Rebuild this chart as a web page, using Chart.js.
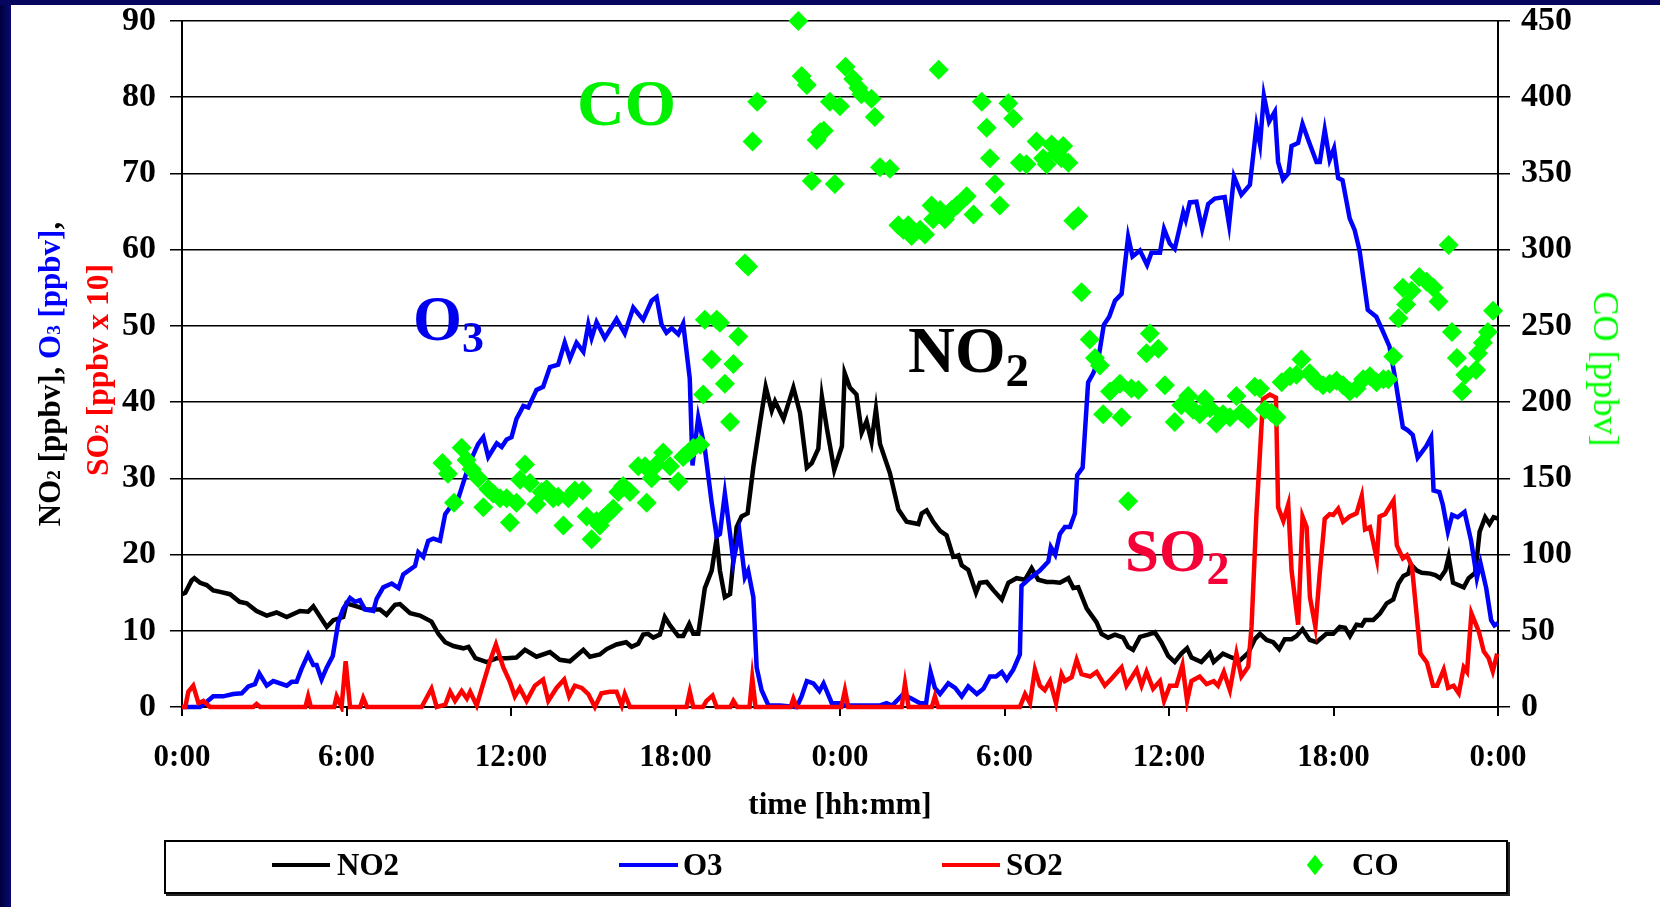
<!DOCTYPE html>
<html><head><meta charset="utf-8">
<script src="https://cdn.jsdelivr.net/npm/chart.js@4.4.1/dist/chart.umd.min.js"></script>
<style>
html,body{margin:0;padding:0;background:#fff;width:1660px;height:907px;overflow:hidden;font-family:'Liberation Serif','Times New Roman',serif;}
#c{position:absolute;left:0;top:0;}
.t{position:absolute;white-space:nowrap;line-height:1;font-weight:bold;z-index:5;}
.rot{transform:translate(-50%,-50%) rotate(-90deg);}
.rotR{transform:translate(-50%,-50%) rotate(90deg);}
.sub{font-size:0.62em;}
#leftStrip{position:absolute;left:0;top:0;width:11px;height:907px;background:linear-gradient(90deg,#00003e,#0a0a70);z-index:6;}
#topStrip{position:absolute;left:0;top:0;width:1660px;height:5px;background:#06065e;z-index:6;}
#legend{position:absolute;left:164px;top:840px;width:1340px;height:50px;border:2px solid #000;box-shadow:2px 2px 0 #222;background:#fff;z-index:5;}
.lg{position:absolute;height:4px;}
</style></head><body>
<canvas id="c" width="1660" height="907"></canvas>
<div id="leftStrip"></div><div id="topStrip"></div>

<div class="t rot" style="left:49px;top:374px;font-size:31px;color:#000;">NO<span class="sub">2</span> [ppbv], <span style="color:#0000ff">O<span class="sub">3</span> [ppbv]</span>,</div>
<div class="t rot" style="left:98px;top:370px;font-size:31.5px;color:#ff0000;">SO<span class="sub">2</span> [ppbv x 10]</div>
<div class="t rotR" style="left:1606px;top:369px;font-size:36px;font-weight:normal;color:#00ff00;">CO [ppbv]</div>
<div class="t" style="left:840px;top:803px;transform:translate(-50%,-50%);font-size:31px;color:#000;">time [hh:mm]</div>

<div class="t" style="left:577px;top:70px;font-size:66px;color:#00f000;">CO</div>
<div class="t" style="left:413px;top:288px;font-size:63px;color:#0000ee;">O<span style="font-size:44px;position:relative;top:12px;">3</span></div>
<div class="t" style="left:908px;top:318px;font-size:65px;color:#000;">NO<span style="font-size:47px;position:relative;top:14px;">2</span></div>
<div class="t" style="left:1125px;top:520px;font-size:61px;color:#f50037;">SO<span style="font-size:46px;position:relative;top:13px;">2</span></div>

<div id="legend"></div>
<div class="lg" style="left:272px;top:863px;width:58px;background:#000;z-index:7;"></div>
<div class="t" style="left:337px;top:849px;font-size:31px;color:#000;">NO2</div>
<div class="lg" style="left:619px;top:863px;width:59px;background:#0000ff;z-index:7;"></div>
<div class="t" style="left:683px;top:849px;font-size:31px;color:#000;">O3</div>
<div class="lg" style="left:942px;top:863px;width:58px;background:#ff0000;z-index:7;"></div>
<div class="t" style="left:1006px;top:849px;font-size:31px;color:#000;">SO2</div>
<div style="position:absolute;left:1307px;top:857px;width:16px;height:16px;background:#00ff00;transform:scaleY(1.25) rotate(45deg) scale(0.72);z-index:7;"></div>
<div class="t" style="left:1352px;top:849px;font-size:31px;color:#000;">CO</div>

<script>
// time in hours since start (0..48)
const xTickLabels = ['0:00','6:00','12:00','18:00','0:00','6:00','12:00','18:00','0:00'];

const no2Series = [[0,14.8],[0.12,15.0],[0.35,16.6],[0.45,16.9],[0.66,16.3],[0.9,16.0],[1.14,15.3],[1.39,15.1],[1.75,14.8],[2.1,13.8],[2.36,13.6],[2.72,12.6],[3.09,12.0],[3.45,12.4],[3.82,11.8],[4.3,12.6],[4.6,12.5],[4.79,13.2],[5.28,10.5],[5.52,11.4],[5.88,11.8],[6.0,13.6],[6.37,13.2],[6.73,12.8],[7.22,12.8],[7.46,12.1],[7.77,13.4],[7.95,13.5],[8.32,12.3],[8.68,12.0],[9.1,11.2],[9.35,9.6],[9.6,8.5],[9.9,8.0],[10.26,7.7],[10.45,7.9],[10.7,6.4],[11.12,5.9],[11.48,6.4],[11.84,6.4],[12.2,6.5],[12.51,7.5],[12.93,6.6],[13.42,7.2],[13.78,6.2],[14.15,6.0],[14.64,7.5],[14.88,6.6],[15.24,6.9],[15.49,7.6],[15.85,8.2],[16.2,8.5],[16.4,7.9],[16.64,8.3],[16.82,9.5],[17.0,9.6],[17.19,9.1],[17.43,9.5],[17.61,11.8],[17.8,10.7],[18.1,9.3],[18.28,9.3],[18.5,10.9],[18.65,9.6],[18.83,9.6],[19.07,15.6],[19.32,17.9],[19.5,22.1],[19.62,17.9],[19.8,14.4],[19.99,14.8],[20.23,23.6],[20.41,25.0],[20.63,25.4],[20.84,31.5],[21.08,37.2],[21.29,42.0],[21.51,38.9],[21.63,40.1],[21.94,37.8],[22.3,41.9],[22.54,38.6],[22.79,31.4],[22.97,32.0],[23.21,33.9],[23.34,40.7],[23.52,36.6],[23.79,31.1],[24.07,34.2],[24.17,43.8],[24.36,41.9],[24.6,41.0],[24.79,36.0],[24.97,37.5],[25.15,34.8],[25.31,39.1],[25.46,34.5],[25.82,30.7],[26.13,25.9],[26.43,24.3],[26.86,24.0],[26.98,25.4],[27.16,25.8],[27.4,24.3],[27.65,23.1],[27.89,22.5],[28.13,19.7],[28.32,19.9],[28.44,18.6],[28.68,18.0],[28.96,15.0],[29.1,16.3],[29.35,16.4],[29.6,15.3],[29.9,14.1],[30.14,16.3],[30.44,16.9],[30.75,16.7],[30.99,18.2],[31.23,16.7],[31.54,16.4],[31.78,16.4],[32.02,16.3],[32.33,16.9],[32.51,15.6],[32.69,15.7],[33.0,12.9],[33.36,11.1],[33.54,9.6],[33.78,9.1],[34.03,9.5],[34.33,9.1],[34.51,7.9],[34.69,7.5],[34.94,9.2],[35.24,9.5],[35.48,9.8],[35.72,8.5],[35.97,6.7],[36.21,5.9],[36.45,7.0],[36.66,7.7],[36.82,6.5],[37.18,5.9],[37.49,7.1],[37.63,5.9],[37.97,7.0],[38.28,6.5],[38.59,6.1],[38.89,7.1],[39.13,8.9],[39.32,9.6],[39.56,8.8],[39.8,8.5],[40.02,7.6],[40.22,8.9],[40.47,8.9],[40.65,9.3],[40.87,10.2],[41.13,8.8],[41.38,8.5],[41.74,9.6],[41.99,9.6],[42.23,10.5],[42.42,10.4],[42.6,9.3],[42.84,10.8],[43.03,10.7],[43.15,11.4],[43.45,11.4],[43.7,12.3],[43.94,13.6],[44.18,14.1],[44.37,16.2],[44.55,17.2],[44.73,17.5],[44.82,18.7],[45.04,17.9],[45.22,17.6],[45.53,17.5],[45.71,17.3],[45.89,16.9],[46.08,17.9],[46.2,19.7],[46.36,16.3],[46.75,15.7],[46.93,16.9],[47.17,17.6],[47.33,23.0],[47.53,24.9],[47.69,24.0],[47.84,24.9],[48.0,24.7]];

const o3Series = [[0,0],[0.66,0],[0.84,0.5],[1.14,1.4],[1.5,1.4],[1.87,1.7],[2.18,1.8],[2.42,2.7],[2.66,3.0],[2.82,4.4],[3.09,2.8],[3.33,3.4],[3.82,2.8],[4.0,3.3],[4.18,3.3],[4.36,5.0],[4.6,6.9],[4.79,5.5],[4.91,5.5],[5.09,3.6],[5.28,5.2],[5.5,6.7],[5.7,11.1],[5.88,12.9],[6.13,14.3],[6.31,13.8],[6.49,14.0],[6.67,12.8],[6.98,12.6],[7.1,14.2],[7.34,15.7],[7.65,16.2],[7.9,15.6],[8.07,17.4],[8.5,18.5],[8.62,20.3],[8.8,19.7],[8.98,21.8],[9.17,22.1],[9.41,21.8],[9.6,25.3],[9.78,26.2],[10.08,27.4],[10.32,30.1],[10.5,32.1],[10.8,34.5],[10.99,35.4],[11.17,32.8],[11.48,34.6],[11.66,34.1],[11.84,35.1],[12.02,35.4],[12.2,37.8],[12.45,39.5],[12.63,39.3],[12.93,41.6],[13.17,42.0],[13.42,44.6],[13.72,44.9],[13.96,47.8],[14.15,45.7],[14.39,47.8],[14.64,46.6],[14.82,50.2],[14.94,48.4],[15.12,50.5],[15.42,48.4],[15.85,50.9],[16.15,49.0],[16.46,52.4],[16.82,50.8],[17.13,53.3],[17.31,53.8],[17.49,50.2],[17.67,49.1],[17.86,49.7],[18.1,48.9],[18.28,50.3],[18.52,43.1],[18.62,31.7],[18.83,38.0],[19.07,33.9],[19.32,26.8],[19.5,22.4],[19.62,22.7],[19.8,28.0],[19.99,22.7],[20.11,19.1],[20.33,23.0],[20.53,17.0],[20.65,17.9],[20.84,14.4],[20.96,5.2],[21.14,2.2],[21.39,0.2],[21.81,0.2],[22.42,0],[22.6,1.4],[22.79,3.4],[23.03,3.1],[23.25,2.1],[23.4,3.1],[23.7,0.5],[24.01,0.5],[24.2,0.2],[25.46,0.2],[25.7,0.5],[25.9,0.2],[26.31,1.7],[26.55,1.2],[26.92,0.5],[27.14,0.5],[27.3,4.6],[27.46,2.5],[27.65,1.7],[27.95,3.1],[28.2,2.5],[28.44,1.4],[28.68,2.7],[28.99,1.7],[29.23,2.4],[29.47,4.0],[29.69,4.0],[29.9,4.6],[30.08,3.6],[30.32,4.9],[30.56,6.9],[30.62,15.9],[30.93,16.9],[31.29,17.9],[31.6,19.1],[31.69,21.0],[31.85,20.0],[32.02,22.7],[32.2,23.6],[32.39,23.6],[32.57,25.4],[32.65,30.4],[32.85,31.4],[33.05,42.6],[33.24,43.8],[33.42,45.6],[33.62,50.1],[33.82,51.2],[34.03,53.3],[34.27,54.2],[34.51,61.7],[34.67,59.1],[34.94,59.9],[35.2,58.0],[35.36,59.6],[35.67,59.6],[35.82,62.7],[36.03,60.8],[36.21,60.1],[36.52,64.9],[36.61,63.9],[36.76,66.2],[37.0,66.3],[37.21,62.7],[37.43,66.0],[37.67,66.7],[38.03,66.9],[38.19,63.3],[38.37,69.6],[38.64,67.2],[38.95,68.5],[39.19,76.2],[39.32,73.8],[39.46,80.2],[39.65,76.8],[39.86,78.1],[39.98,71.5],[40.16,69.2],[40.35,70.0],[40.47,73.6],[40.71,74.0],[40.87,76.5],[41.08,74.4],[41.38,71.5],[41.5,71.5],[41.68,75.7],[41.86,71.8],[42.02,73.3],[42.17,69.4],[42.33,69.1],[42.59,64.1],[42.77,62.6],[42.95,59.9],[43.25,52.1],[43.56,51.2],[43.8,49.3],[44.04,47.3],[44.22,43.7],[44.38,40.1],[44.53,36.7],[44.71,36.3],[44.89,35.7],[45.07,32.7],[45.38,34.2],[45.56,35.4],[45.65,28.4],[45.86,28.2],[45.99,26.5],[46.17,23.0],[46.33,25.2],[46.53,24.9],[46.78,25.6],[47.02,21.8],[47.23,16.9],[47.36,18.9],[47.57,15.6],[47.75,11.4],[47.87,10.7],[48.0,11.0]];

const so2Series = [[0,0],[0.12,0],[0.23,2.0],[0.41,2.8],[0.6,0.5],[0.78,0.8],[1.02,0],[2.6,0],[2.72,0.4],[2.85,0],[4.5,0],[4.6,1.4],[4.7,0],[5.55,0],[5.64,1.4],[5.82,0],[5.97,6.0],[6.13,0],[6.5,0],[6.61,1.2],[6.75,0],[8.74,0],[9.1,2.4],[9.29,0],[9.6,0.3],[9.78,2.0],[9.96,0.8],[10.2,2.1],[10.39,1.1],[10.51,2.0],[10.75,0.2],[10.99,3.1],[11.24,6.1],[11.45,8.2],[11.72,5.2],[11.96,3.3],[12.14,1.4],[12.32,2.5],[12.57,0.8],[12.87,2.8],[13.17,3.6],[13.36,0.8],[13.66,2.5],[13.94,3.6],[14.12,1.4],[14.33,2.8],[14.58,2.5],[14.82,1.7],[15.06,0],[15.3,1.8],[15.6,2.0],[15.85,2.0],[16.04,0.2],[16.15,1.7],[16.34,0],[18.4,0],[18.52,2.0],[18.65,0],[19.0,0],[19.13,0.8],[19.35,1.5],[19.5,0],[20.0,0],[20.11,0.8],[20.25,0],[20.7,0],[20.8,3.8],[20.92,0],[22.2,0],[22.3,1.1],[22.42,0],[24.05,0],[24.18,2.2],[24.3,0],[26.25,0],[26.37,3.1],[26.5,0],[27.35,0],[27.46,1.4],[27.58,0],[30.56,0],[30.75,1.7],[30.93,0.5],[31.11,4.9],[31.29,2.8],[31.47,2.2],[31.66,3.4],[31.88,0.5],[32.08,4.3],[32.2,3.4],[32.45,3.9],[32.63,6.2],[32.81,4.3],[33.12,4.0],[33.36,4.6],[33.66,2.8],[33.9,3.7],[34.27,5.2],[34.45,2.8],[34.82,4.9],[35.0,2.8],[35.18,4.6],[35.42,2.4],[35.67,3.4],[35.82,0.8],[36.03,2.8],[36.27,2.8],[36.49,5.5],[36.66,0.8],[36.82,3.4],[37.12,4.0],[37.37,3.0],[37.63,3.4],[37.79,2.8],[38.0,4.6],[38.22,2.2],[38.46,7.0],[38.64,4.0],[38.89,5.3],[39.01,10.5],[39.19,25.3],[39.43,40.4],[39.68,41.0],[39.9,40.6],[39.98,26.2],[40.17,24.4],[40.35,26.6],[40.47,17.9],[40.71,10.8],[40.87,25.0],[41.02,23.6],[41.14,14.4],[41.34,10.5],[41.5,17.6],[41.68,24.7],[41.86,25.3],[41.99,25.2],[42.17,26.0],[42.35,24.3],[42.59,25.0],[42.84,25.4],[43.03,27.7],[43.15,23.3],[43.33,23.6],[43.58,19.4],[43.68,25.0],[43.88,25.3],[44.19,27.1],[44.31,21.2],[44.53,19.5],[44.68,19.9],[44.86,18.5],[45.17,7.0],[45.41,5.8],[45.63,2.8],[45.78,2.8],[46.02,4.9],[46.18,2.5],[46.38,2.8],[46.57,1.8],[46.75,5.2],[46.87,4.6],[47.03,12.3],[47.3,9.9],[47.48,7.3],[47.66,6.4],[47.81,4.7],[47.97,7.0]];

const coSeries = [[9.5,160],[9.7,153],[9.92,134],[10.2,170],[10.38,162],[10.56,156],[10.81,150],[10.99,131],[11.17,143],[11.35,140],[11.6,137],[11.84,137],[11.96,121],[12.2,134],[12.33,149],[12.51,159],[12.69,147],[12.93,133],[13.12,141],[13.3,143],[13.54,137],[13.72,138],[13.91,119],[14.09,137],[14.33,142],[14.61,142],[14.76,125],[14.94,110],[15.12,122],[15.24,119],[15.37,124],[15.55,127],[15.73,130],[15.91,141],[16.09,145],[16.34,141],[16.64,158],[16.89,158],[16.95,134],[17.13,150],[17.31,159],[17.55,167],[17.8,158],[18.1,148],[18.28,164],[18.47,167],[18.65,170],[18.9,172],[19.01,205],[19.07,254],[19.32,228],[19.5,254],[19.62,252],[19.8,212],[19.99,187],[20.11,225],[20.29,243],[20.53,291],[20.65,289],[20.81,371],[20.98,397],[22.48,450],[22.6,414],[22.79,408],[22.97,345],[23.15,372],[23.28,377],[23.41,378],[23.63,397],[23.81,343],[24.0,394],[24.2,420],[24.48,412],[24.67,406],[24.78,402],[25.15,399],[25.27,387],[25.46,354],[25.82,353],[26.13,316],[26.31,313],[26.49,316],[26.61,309],[26.92,313],[27.1,310],[27.34,329],[27.4,320],[27.6,418],[27.65,326],[27.83,320],[28.07,326],[28.26,329],[28.62,335],[28.87,323],[29.17,397],[29.35,380],[29.47,360],[29.65,343],[29.83,329],[30.14,396],[30.32,386],[30.56,357],[30.8,356],[31.17,371],[31.41,360],[31.54,356],[31.72,369],[31.9,363],[32.08,360],[32.14,368],[32.33,357],[32.51,319],[32.69,322],[32.81,272],[33.11,241],[33.3,229],[33.48,224],[33.6,192],[33.85,207],[34.21,212],[34.27,190],[34.51,135],[34.63,209],[34.88,208],[35.18,232],[35.3,245],[35.61,235],[35.85,211],[36.21,187],[36.45,198],[36.7,204],[36.88,195],[37.12,192],[37.31,202],[37.49,196],[37.73,186],[37.97,192],[38.22,190],[38.46,204],[38.64,193],[38.89,189],[39.13,210],[39.32,209],[39.5,195],[39.74,193],[39.92,190],[40.11,213],[40.41,217],[40.65,218],[40.83,228],[41.13,219],[41.38,214],[41.62,211],[41.86,212],[42.11,214],[42.35,211],[42.6,207],[42.84,209],[43.08,215],[43.33,217],[43.57,213],[43.82,215],[44.0,215],[44.18,230],[44.37,255],[44.53,275],[44.65,264],[44.85,273],[45.13,282],[45.4,279],[45.65,275],[45.83,266],[46.2,303],[46.32,246],[46.5,229],[46.69,207],[46.81,218],[47.2,221],[47.27,232],[47.45,239],[47.63,246],[47.82,260]];

const toXY = s => s.map(p => ({x: p[0], y: p[1]}));
const tickFont = {family: "'Liberation Serif', 'Times New Roman', serif", weight: 'bold', size: 31};
const yTickFont = {family: "'Liberation Serif', 'Times New Roman', serif", weight: 'bold', size: 34};
const noVPad = s => { s.paddingTop = 0; s.paddingBottom = 0; };

new Chart(document.getElementById('c'), {
  type: 'line',
  data: {
    datasets: [
      {label: 'NO2', data: toXY(no2Series), borderColor: '#000000', borderWidth: 4.5, pointRadius: 0, yAxisID: 'y', order: 3, clip: 5},
      {label: 'O3', data: toXY(o3Series), borderColor: '#0000ff', borderWidth: 4.5, pointRadius: 0, yAxisID: 'y', order: 2, clip: 5},
      {label: 'SO2', data: toXY(so2Series), borderColor: '#ff0000', borderWidth: 4.5, pointRadius: 0, yAxisID: 'y', order: 1, clip: 5},
      {label: 'CO', type: 'scatter', data: toXY(coSeries), yAxisID: 'y2', showLine: false, pointStyle: 'rectRot', pointRadius: 10, pointHoverRadius: 10, backgroundColor: '#00ff00', borderColor: '#00ff00', borderWidth: 0, order: 0, clip: 12}
    ]
  },
  options: {
    responsive: false, animation: false, devicePixelRatio: 1,
    layout: {padding: {top: 21, bottom: 140, left: 0, right: 0}, autoPadding: false},
    plugins: {legend: {display: false}, tooltip: {enabled: false}},
    scales: {
      x: {
        type: 'linear', min: 0, max: 48,
        afterBuildTicks: s => { s.ticks = xTickLabels.map((l, i) => ({value: i * 6})); },
        afterFit: s => { s.height = 60; s.paddingLeft = 0; s.paddingRight = 0; },
        ticks: {callback: v => xTickLabels[Math.round(v / 6)], font: tickFont, color: '#000', padding: 23, maxRotation: 0, autoSkip: false},
        grid: {drawOnChartArea: false, drawTicks: true, tickLength: 9, color: '#000', lineWidth: 2},
        border: {color: '#000', width: 2}
      },
      y: {
        position: 'left', min: 0, max: 90,
        afterFit: s => { s.width = 182; noVPad(s); },
        ticks: {stepSize: 10, font: yTickFont, color: '#000', padding: 14},
        grid: {color: '#000', lineWidth: 1.5, tickLength: 12},
        border: {color: '#000', width: 2}
      },
      y2: {
        position: 'right', min: 0, max: 450,
        afterFit: s => { s.width = 162; noVPad(s); },
        ticks: {stepSize: 50, font: yTickFont, color: '#000', padding: 11},
        grid: {drawOnChartArea: false, color: '#000', lineWidth: 1.5, tickLength: 12},
        border: {color: '#000', width: 2}
      }
    }
  }
});
</script>
</body></html>
